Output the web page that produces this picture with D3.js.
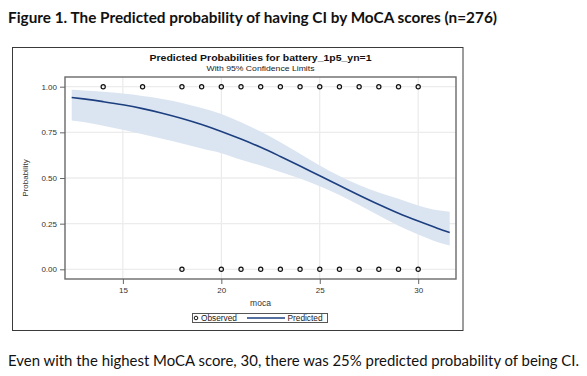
<!DOCTYPE html>
<html><head><meta charset="utf-8">
<script src="https://cdn.jsdelivr.net/npm/d3@7"></script>
<style>
html,body{margin:0;padding:0;background:#fff;}
svg{display:block;}
</style></head>
<body>
<svg id="chart" width="587" height="376"></svg>
<script>
// ---- data ----
const figureTitle = "Figure 1. The Predicted probability of having CI by MoCA scores (n=276)";
const chartTitle = "Predicted Probabilities for battery_1p5_yn=1";
const chartSubtitle = "With 95% Confidence Limits";
const footnote = "Even with the highest MoCA score, 30, there was 25% predicted probability of being CI.";
const xLabel = "moca";
const yLabel = "Probability";
const xTicks = [15, 20, 25, 30];
const yTicks = [0, 0.25, 0.5, 0.75, 1];
const legendLabels = ["Observed", "Predicted"];

const mocaGrid =  [12.4, 13, 14, 15, 16, 17, 18, 19, 20, 21, 22, 23, 24, 25, 26, 27, 28, 29, 30, 31, 31.6];
const predicted = [0.941,0.933,0.918,0.901,0.880,0.855,0.826,0.793,0.755,0.713,0.668,0.618,0.566,0.512,0.459,0.406,0.355,0.307,0.264,0.224,0.202];
const upperCL =   [0.983,0.979,0.972,0.962,0.949,0.933,0.911,0.883,0.850,0.805,0.754,0.696,0.633,0.569,0.511,0.462,0.421,0.386,0.350,0.323,0.315];
const lowerCL =   [0.815,0.806,0.786,0.764,0.740,0.715,0.689,0.661,0.636,0.600,0.568,0.533,0.497,0.455,0.407,0.352,0.294,0.239,0.190,0.148,0.130];

const observedOneX =  [14, 16, 18, 19, 20, 21, 22, 23, 24, 25, 26, 27, 28, 29, 30];
const observedZeroX = [18, 20, 21, 22, 23, 24, 25, 26, 27, 28, 29, 30];

// ---- drawing ----
const svg = d3.select("#chart");
const plot = {left: 65, right: 456, top: 77, bottom: 279};

const x = d3.scaleLinear().domain([12.06, 31.92]).range([plot.left, plot.right]);
const y = d3.scaleLinear().domain([-0.053, 1.053]).range([plot.bottom, plot.top]);

const sans = "'Liberation Sans', Arial, sans-serif";
const body = "Lato, 'Open Sans', sans-serif";

// figure title
svg.append("text").attr("x", 8).attr("y", 22.5)
  .attr("font-family", body).attr("font-weight", "bold").attr("font-size", 14.5)
  .attr("fill", "#111")
  .attr("textLength", 489).attr("lengthAdjust", "spacingAndGlyphs")
  .text(figureTitle);

// outer frame
svg.append("rect").attr("x", 12.5).attr("y", 47.5).attr("width", 450.5).attr("height", 283)
  .attr("fill", "none").attr("stroke", "#3a3a3a").attr("stroke-width", 1);

// chart titles
svg.append("text").attr("x", (plot.left + plot.right) / 2).attr("y", 61)
  .attr("text-anchor", "middle").attr("font-family", sans).attr("font-weight", "bold")
  .attr("font-size", 9.5).attr("fill", "#111")
  .attr("textLength", 222).attr("lengthAdjust", "spacingAndGlyphs")
  .text(chartTitle);
svg.append("text").attr("x", (plot.left + plot.right) / 2).attr("y", 71)
  .attr("text-anchor", "middle").attr("font-family", sans)
  .attr("font-size", 7.8).attr("fill", "#222")
  .attr("textLength", 108).attr("lengthAdjust", "spacingAndGlyphs")
  .text(chartSubtitle);

// grid
const g = svg.append("g");
g.selectAll(".vg").data(xTicks).enter().append("line")
  .attr("x1", d => x(d)).attr("x2", d => x(d)).attr("y1", plot.top).attr("y2", plot.bottom)
  .attr("stroke", "#e6e6e6").attr("stroke-width", 1);
g.selectAll(".hg").data(yTicks).enter().append("line")
  .attr("y1", d => y(d)).attr("y2", d => y(d)).attr("x1", plot.left).attr("x2", plot.right)
  .attr("stroke", "#ececec").attr("stroke-width", 1.3);

// confidence band
const rows = mocaGrid.map((m, i) => ({m, p: predicted[i], u: upperCL[i], l: lowerCL[i]}));
g.append("path").datum(rows)
  .attr("d", d3.area().x(d => x(d.m)).y0(d => y(d.l)).y1(d => y(d.u)).curve(d3.curveMonotoneX))
  .attr("fill", "#dbe5f1");

// predicted line
g.append("path").datum(rows)
  .attr("d", d3.line().x(d => x(d.m)).y(d => y(d.p)).curve(d3.curveMonotoneX))
  .attr("fill", "none").attr("stroke", "#1d3f80").attr("stroke-width", 1.6);

// observed points
const pts = observedOneX.map(v => ({m: v, o: 1})).concat(observedZeroX.map(v => ({m: v, o: 0})));
g.selectAll(".pt").data(pts).enter().append("circle")
  .attr("cx", d => x(d.m)).attr("cy", d => y(d.o)).attr("r", 2.1)
  .attr("fill", "none").attr("stroke", "#111").attr("stroke-width", 1.2);

// plot border
svg.append("rect").attr("x", plot.left).attr("y", plot.top)
  .attr("width", plot.right - plot.left).attr("height", plot.bottom - plot.top)
  .attr("fill", "none").attr("stroke", "#6a6a6a").attr("stroke-width", 1.4);

// axes
const xAxis = svg.append("g").attr("transform", `translate(0,${plot.bottom})`)
  .call(d3.axisBottom(x).tickValues(xTicks).tickSize(5).tickPadding(3).tickFormat(d3.format("d")));
const yAxis = svg.append("g").attr("transform", `translate(${plot.left},0)`)
  .call(d3.axisLeft(y).tickValues(yTicks).tickSize(5).tickPadding(3).tickFormat(d3.format(".2f")));
[xAxis, yAxis].forEach(a => {
  a.select(".domain").remove();
  a.selectAll(".tick line").attr("stroke", "#666");
  a.selectAll(".tick text").attr("font-family", sans).attr("font-size", 8).attr("fill", "#333");
});

// axis labels
svg.append("text").attr("x", (plot.left + plot.right) / 2).attr("y", 306)
  .attr("text-anchor", "middle").attr("font-family", sans).attr("font-size", 8.5).attr("fill", "#333")
  .text(xLabel);
svg.append("text").attr("transform", `translate(28,${y(0.5)}) rotate(-90)`)
  .attr("text-anchor", "middle").attr("font-family", sans).attr("font-size", 8).attr("fill", "#333")
  .text(yLabel);

// legend
const lg = svg.append("g");
lg.append("rect").attr("x", 192.5).attr("y", 313.5).attr("width", 135).attr("height", 9)
  .attr("fill", "#fff").attr("stroke", "#555").attr("stroke-width", 1);
lg.append("circle").attr("cx", 196).attr("cy", 318).attr("r", 1.8)
  .attr("fill", "none").attr("stroke", "#111").attr("stroke-width", 1);
lg.append("text").attr("x", 201).attr("y", 321).attr("font-family", sans).attr("font-size", 8.3)
  .attr("fill", "#222").text(legendLabels[0]);
lg.append("line").attr("x1", 247).attr("x2", 285).attr("y1", 318).attr("y2", 318)
  .attr("stroke", "#1d3f80").attr("stroke-width", 1.6);
lg.append("text").attr("x", 287.5).attr("y", 321).attr("font-family", sans).attr("font-size", 8.3)
  .attr("fill", "#222").text(legendLabels[1]);

// footnote
svg.append("text").attr("x", 8).attr("y", 366)
  .attr("font-family", body).attr("font-size", 14.5).attr("fill", "#111")
  .attr("textLength", 571).attr("lengthAdjust", "spacingAndGlyphs")
  .text(footnote);
</script>
</body></html>
